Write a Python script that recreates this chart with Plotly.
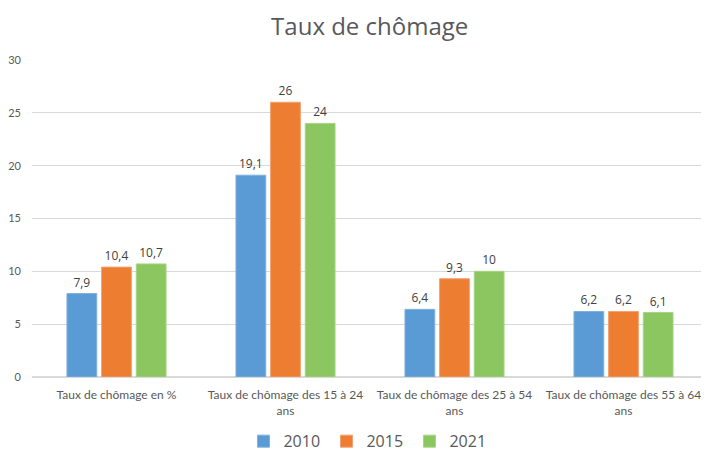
import plotly.graph_objects as go

categories = ["Taux de chômage en %", "Taux de chômage des 15 à 24<br>ans",
              "Taux de chômage des 25 à 54<br>ans", "Taux de chômage des 55 à 64<br>ans"]
series_names = ["2010", "2015", "2021"]
values_2010 = [7.9, 19.1, 6.4, 6.2]
values_2015 = [10.4, 26, 9.3, 6.2]
values_2021 = [10.7, 24, 10, 6.1]
labels_2010 = ["7,9", "19,1", "6,4", "6,2"]
labels_2015 = ["10,4", "26", "9,3", "6,2"]
labels_2021 = ["10,7", "24", "10", "6,1"]
colors = ["#5B9BD5", "#ED7D31", "#8BC660"]
lines = ["#7FB1DE", "#F4A070", "#A6D585"]

FONT = "Open Sans"
TICKFONT = "Lato"

fig = go.Figure()
for name, vals, labs, c, lc in zip(series_names, [values_2010, values_2015, values_2021],
                                   [labels_2010, labels_2015, labels_2021], colors, lines):
    fig.add_trace(go.Bar(
        x=categories, y=vals, name=name, text=labs, textposition="outside",
        textfont=dict(family=FONT, size=12, color="#404040"),
        marker=dict(color=c, line=dict(color=lc, width=1)),
        cliponaxis=False,
    ))

# page is offset by the default 8px body margin, so the figure is sized to fit
fig.update_layout(
    width=701, height=443,
    paper_bgcolor="white", plot_bgcolor="white",
    margin=dict(l=24, r=1, t=52, b=74),
    title=dict(text="Taux de chômage", x=0.516, xanchor="center", y=0.958, yanchor="middle",
               yref="container", automargin=False,
               font=dict(family=FONT, size=24, color="#595959")),
    barmode="group", bargap=0.385, bargroupgap=0.14,
    showlegend=True,
    legend=dict(orientation="h", x=0.497, xanchor="center", y=0.022, yanchor="middle",
                yref="container",
                font=dict(family=FONT, size=16, color="#595959"),
                itemwidth=30, entrywidth=38, traceorder="normal"),
    font=dict(family=FONT, color="#595959"),
)
fig.update_yaxes(range=[0, 30], dtick=5, showgrid=True, gridcolor="#D9D9D9", gridwidth=1,
                 zeroline=True, zerolinecolor="#D9D9D9", showline=False,
                 ticks="", ticklabelstandoff=10, automargin=False,
                 tickfont=dict(family=TICKFONT, size=11, color="#595959"))
fig.update_xaxes(showline=False, ticks="", tickangle=0, automargin=False,
                 ticklabelstandoff=9,
                 tickfont=dict(family=TICKFONT, size=12, color="#595959"))

fig.write_html("out.html")
